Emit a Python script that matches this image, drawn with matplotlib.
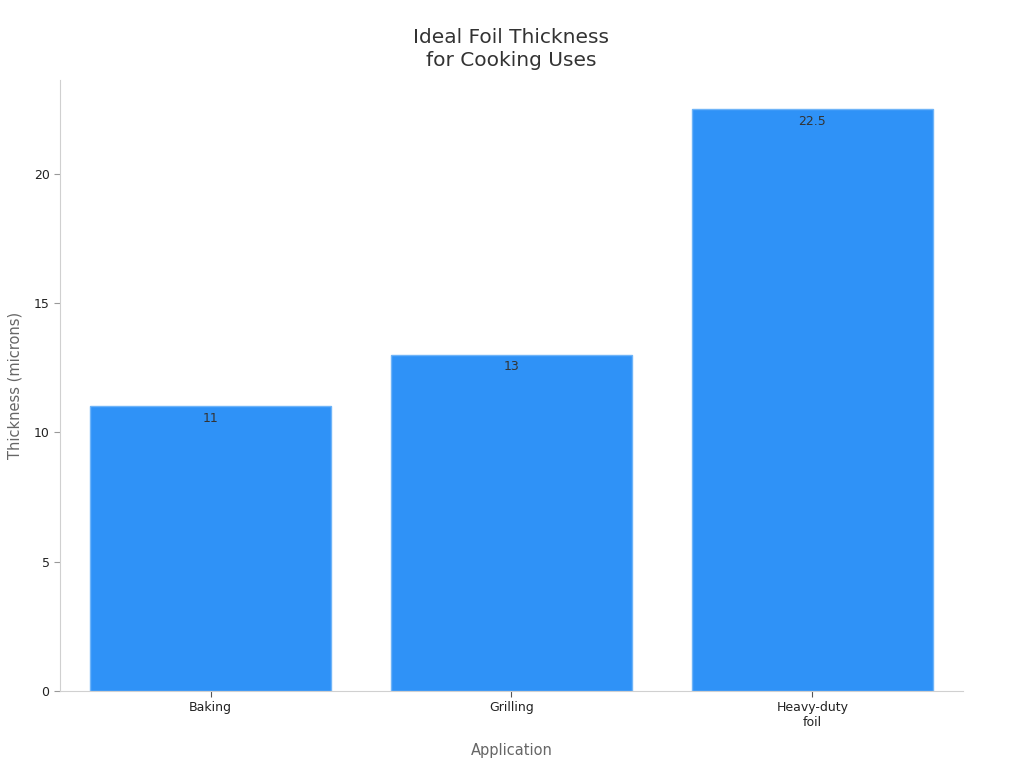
import matplotlib
matplotlib.use('Agg')
import matplotlib.pyplot as plt

categories = ['Baking', 'Grilling', 'Heavy-duty\nfoil']
thickness = [11, 13, 22.5]
title = 'Ideal Foil Thickness\nfor Cooking Uses'

fig = plt.figure(figsize=(10.24, 7.68), dpi=100)
ax = fig.add_axes([0.0586, 0.1003, 0.8818, 0.7956])

x = range(len(categories))
bars = ax.bar(x, thickness, width=0.8, color='#2f92f7', edgecolor='#6fb4f8', linewidth=1)
for b, v in zip(bars, thickness):
    ax.annotate(f'{v:g}', (b.get_x() + b.get_width() / 2, v), xytext=(0, -4),
                textcoords='offset points', ha='center', va='top', fontsize=9, color='#333333')

ax.set_xlim(-0.5, len(categories) - 0.5)
ax.set_ylim(0, max(thickness) * 1.05)
ax.set_yticks([0, 5, 10, 15, 20])
ax.set_xticks(list(x))
ax.set_xticklabels(categories)

for s in ['top', 'right']:
    ax.spines[s].set_visible(False)
for s in ['left', 'bottom']:
    ax.spines[s].set_color('#d0d0d0')
ax.tick_params(axis='y', colors='#999999', labelcolor='#222222', labelsize=9, length=4)
ax.tick_params(axis='x', colors='#555555', labelcolor='#222222', labelsize=9, length=4)

ax.set_xlabel('Application', fontsize=10.5, color='#666666', labelpad=10)
ax.set_ylabel('Thickness (microns)', fontsize=10.5, color='#666666', labelpad=8)
ax.set_title(title, fontsize=14.5, color='#333333', pad=10, linespacing=1.3)

fig.savefig('out.png', dpi=100)
